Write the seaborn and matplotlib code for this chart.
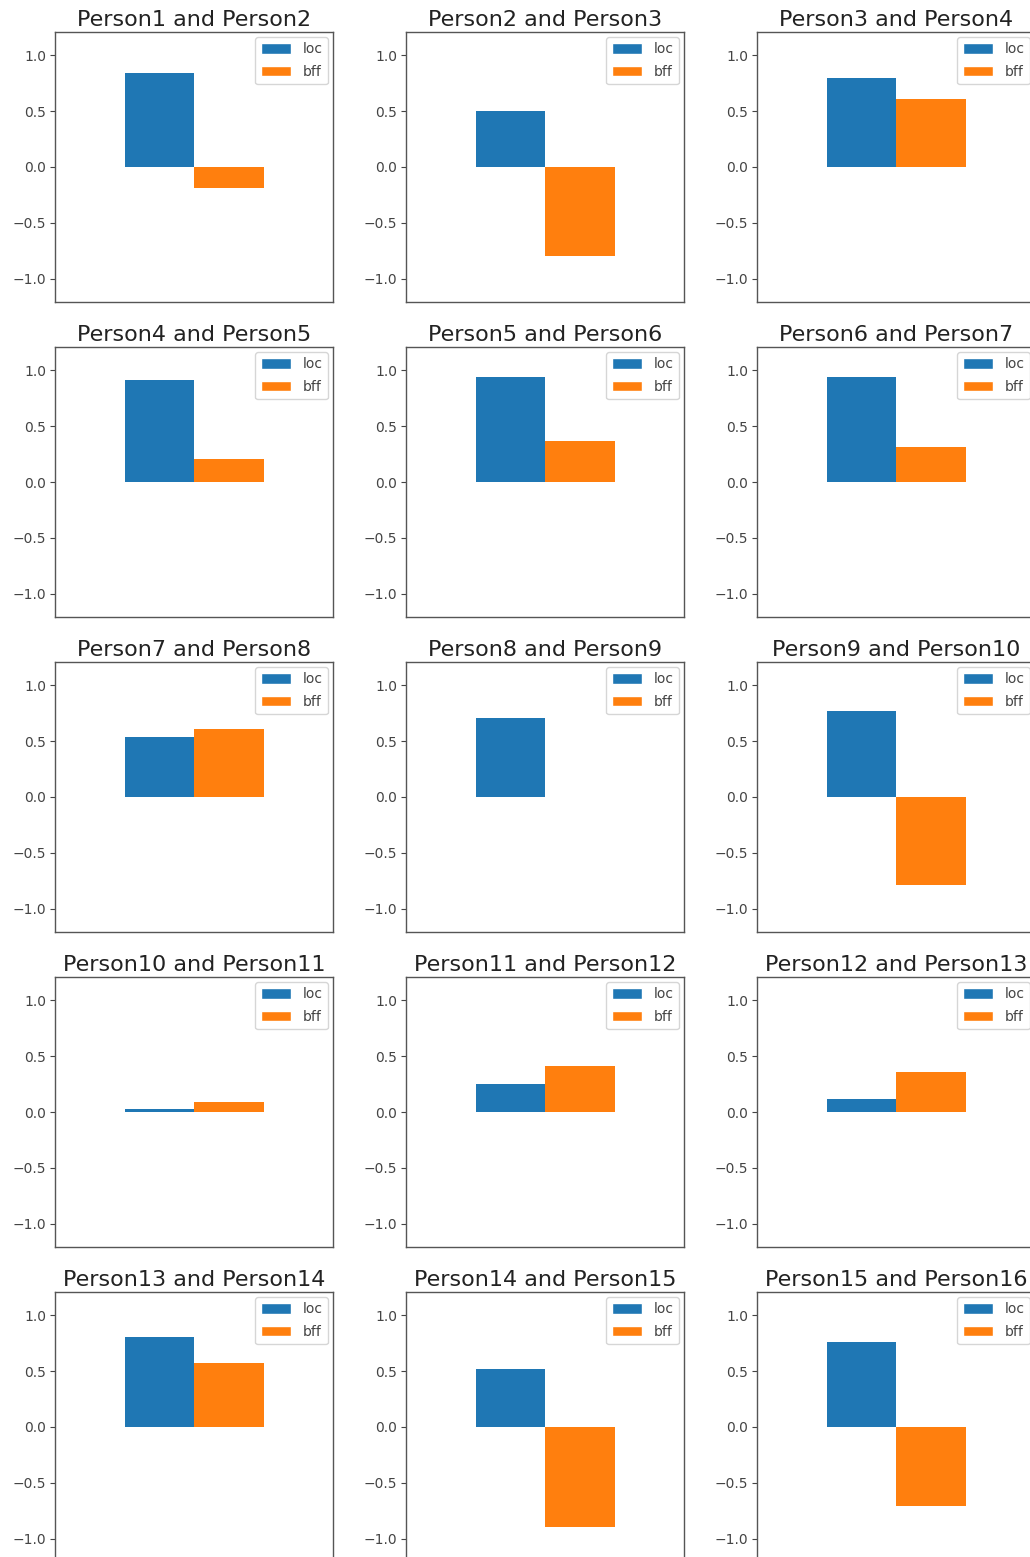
"""
plot.py
Grid of 15 small bar charts comparing the loc and bff scores for
consecutive pairs of people.
"""

import matplotlib
matplotlib.use("Agg")
import matplotlib.pyplot as plt
from matplotlib.patches import Patch
import pandas as pd
import seaborn as sns

# ---- Data ----
pair_titles = [f"Person{i} and Person{i + 1}" for i in range(1, 16)]
series_names = ["loc", "bff"]
loc_vals = [0.84, 0.50, 0.80, 0.91, 0.94, 0.94, 0.54, 0.71, 0.77,
            0.03, 0.25, 0.12, 0.81, 0.52, 0.76]
bff_vals = [-0.19, -0.80, 0.61, 0.21, 0.37, 0.31, 0.61, 0.00, -0.79,
            0.09, 0.41, 0.36, 0.57, -0.90, -0.71]
yticks = [-1.0, -0.5, 0.0, 0.5, 1.0]

# ---- Style ----
sns.set_style("ticks")
plt.rcParams["font.family"] = ["DejaVu Sans"]
COLORS = ["#1f77b4", "#ff7f0e"]

FIG_W, FIG_H = 1030, 1557
DPI = 100
# the reference is a crop: last column and last row run off the edges
COL_LEFT = [55, 406, 757]
ROW_TOP = [32, 347, 662, 977, 1292]
AX_W, AX_H = 278, 270

fig = plt.figure(figsize=(FIG_W / DPI, FIG_H / DPI), dpi=DPI)

for i, title in enumerate(pair_titles):
    row, col = divmod(i, 3)
    left = COL_LEFT[col] / FIG_W
    bottom = 1 - (ROW_TOP[row] + AX_H) / FIG_H
    ax = fig.add_axes([left, bottom, AX_W / FIG_W, AX_H / FIG_H])

    df = pd.DataFrame({
        "pair": [title, title],
        "series": series_names,
        "value": [loc_vals[i], bff_vals[i]],
    })
    sns.barplot(data=df, x="pair", y="value", hue="series",
                hue_order=series_names, palette=COLORS, width=0.5,
                saturation=1, errorbar=None, linewidth=0, legend=False, ax=ax)

    ax.set_xlim(-0.5, 0.5)
    ax.set_ylim(-1.21, 1.21)
    ax.set_yticks(yticks)
    ax.set_yticklabels([f"{t:.1f}".replace("-", "\u2212") for t in yticks])
    ax.tick_params(axis="y", labelsize=10, colors="#444444", length=3.5,
                   width=0.8, pad=3)
    ax.tick_params(axis="x", bottom=False, labelbottom=False)
    ax.set_xlabel("")
    ax.set_ylabel("")
    for spine in ax.spines.values():
        spine.set_color("#555555")
        spine.set_linewidth(1.0)
    ax.set_title(title, fontsize=16, color="#222222", pad=4)

    handles = [Patch(facecolor=c, label=n) for c, n in zip(COLORS, series_names)]
    ax.legend(handles=handles, loc="upper right", fontsize=10,
              handlelength=2.2, handleheight=0.75, labelspacing=0.6,
              frameon=True, borderaxespad=0.35, labelcolor="#444444")

fig.savefig("out.png", dpi=DPI)
